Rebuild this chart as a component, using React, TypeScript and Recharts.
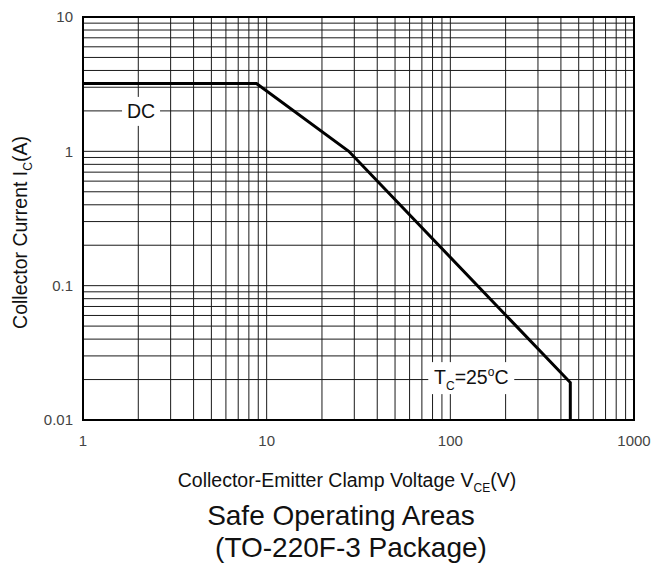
import { LineChart, Line, XAxis, YAxis, CartesianGrid, ReferenceDot, ReferenceArea } from 'recharts';

// grid ticks (log decades with 2..9 subdivisions)
const xTicks = [1, 2, 3, 4, 5, 6, 7, 8, 9, 10, 20, 30, 40, 50, 60, 70, 80, 90, 100, 200, 300, 400, 500, 600, 700, 800, 900, 1000];
const yTicks = [
    0.01, 0.02, 0.03, 0.04, 0.05, 0.06, 0.07, 0.08, 0.09,
    0.1, 0.2, 0.3, 0.4, 0.5, 0.6, 0.7, 0.8, 0.9,
    1, 2, 3, 4, 5, 6, 7, 8, 9, 10,
];
const xLabels = [1, 10, 100, 1000];
const yLabels = [0.01, 0.1, 1, 10];

// safe operating area boundary (DC)
const vce = [1, 8.8, 28, 450, 450];
const ic = [3.2, 3.2, 1.0, 0.019, 0.01];

const soaData = vce.map((v, i) => ({ vce: v, ic: ic[i] }));

const font = '"Liberation Sans", Arial, sans-serif';

const fmtX = (v: number) => (xLabels.includes(v) ? String(v) : '');
const fmtY = (v: number) => (yLabels.some(l => Math.abs(l - v) < 1e-9) ? String(v) : '');

export default function App() {
    return (
        <div style={{ position: 'fixed', left: 0, top: 0, width: 655, height: 565, background: '#fff' }}>
            <LineChart
                width={655}
                height={565}
                data={soaData}
                margin={{ top: 17, right: 21, left: 43, bottom: 115 }}
                style={{ overflow: 'visible' }}
            >
                <CartesianGrid stroke="#1a1a1a" strokeWidth={1} />
                <XAxis
                    dataKey="vce"
                    type="number"
                    scale="log"
                    domain={[1, 1000]}
                    allowDataOverflow
                    ticks={xTicks}
                    interval={0}
                    tickFormatter={fmtX}
                    tickLine={false}
                    axisLine={{ stroke: '#000', strokeWidth: 2 }}
                    tick={{ fill: '#444', fontSize: 15, fontFamily: font, dy: 7 }}
                    height={30}
                    label={({ viewBox }: any) => (
                        <g fontFamily={font}>
                            <text x={347} y={viewBox.y + 67} textAnchor="middle" fontSize={19.5} fill="#111">
                                Collector-Emitter Clamp Voltage V
                                <tspan fontSize={12} dy={5}>CE</tspan>
                                <tspan dy={-5}>(V)</tspan>
                            </text>
                            <text x={341} y={viewBox.y + 105} textAnchor="middle" fontSize={28} fill="#111">
                                Safe Operating Areas
                            </text>
                            <text x={351} y={viewBox.y + 137} textAnchor="middle" fontSize={28} fill="#111">
                                (TO-220F-3 Package)
                            </text>
                        </g>
                    )}
                />
                <YAxis
                    type="number"
                    scale="log"
                    domain={[0.01, 10]}
                    allowDataOverflow
                    ticks={yTicks}
                    interval={0}
                    tickFormatter={fmtY}
                    tickLine={false}
                    axisLine={{ stroke: '#000', strokeWidth: 2 }}
                    tick={{ fill: '#444', fontSize: 15, fontFamily: font, dx: -2 }}
                    width={40}
                    label={({ viewBox }: any) => (
                        <text
                            x={0}
                            y={0}
                            transform={`translate(27, ${viewBox.y + viewBox.height / 2 + 14}) rotate(-90)`}
                            textAnchor="middle"
                            fontFamily={font}
                            fontSize={19.5}
                            fill="#111"
                        >
                            Collector Current I
                            <tspan fontSize={12} dy={5}>C</tspan>
                            <tspan dy={-5}>(A)</tspan>
                        </text>
                    )}
                />
                <ReferenceArea x1={1} x2={1000} y1={0.01} y2={10} fill="none" stroke="#000" strokeWidth={2} ifOverflow="visible" />
                <Line
                    dataKey="ic"
                    type="linear"
                    stroke="#000"
                    strokeWidth={3}
                    dot={false}
                    isAnimationActive={false}
                />
                <ReferenceDot
                    x={2.07}
                    y={2}
                    r={0}
                    shape={(p: any) => (
                        <g>
                            <rect x={p.cx - 19} y={p.cy - 14} width={38} height={29} fill="#fff" />
                            <text x={p.cx} y={p.cy + 7} textAnchor="middle" fontFamily={font} fontSize={19.5} fill="#111">
                                DC
                            </text>
                        </g>
                    )}
                />
                <ReferenceDot
                    x={130}
                    y={0.0205}
                    r={0}
                    shape={(p: any) => (
                        <g>
                            <rect x={p.cx - 43} y={p.cy - 16} width={86} height={32} fill="#fff" />
                            <text x={p.cx} y={p.cy + 6} textAnchor="middle" fontFamily={font} fontSize={19.5} fill="#111">
                                T<tspan fontSize={12} dy={6}>C</tspan>
                                <tspan dy={-6}>=25</tspan>
                                <tspan fontSize={12} dy={-8}>o</tspan>
                                <tspan dy={8}>C</tspan>
                            </text>
                        </g>
                    )}
                />
            </LineChart>
        </div>
    );
}
